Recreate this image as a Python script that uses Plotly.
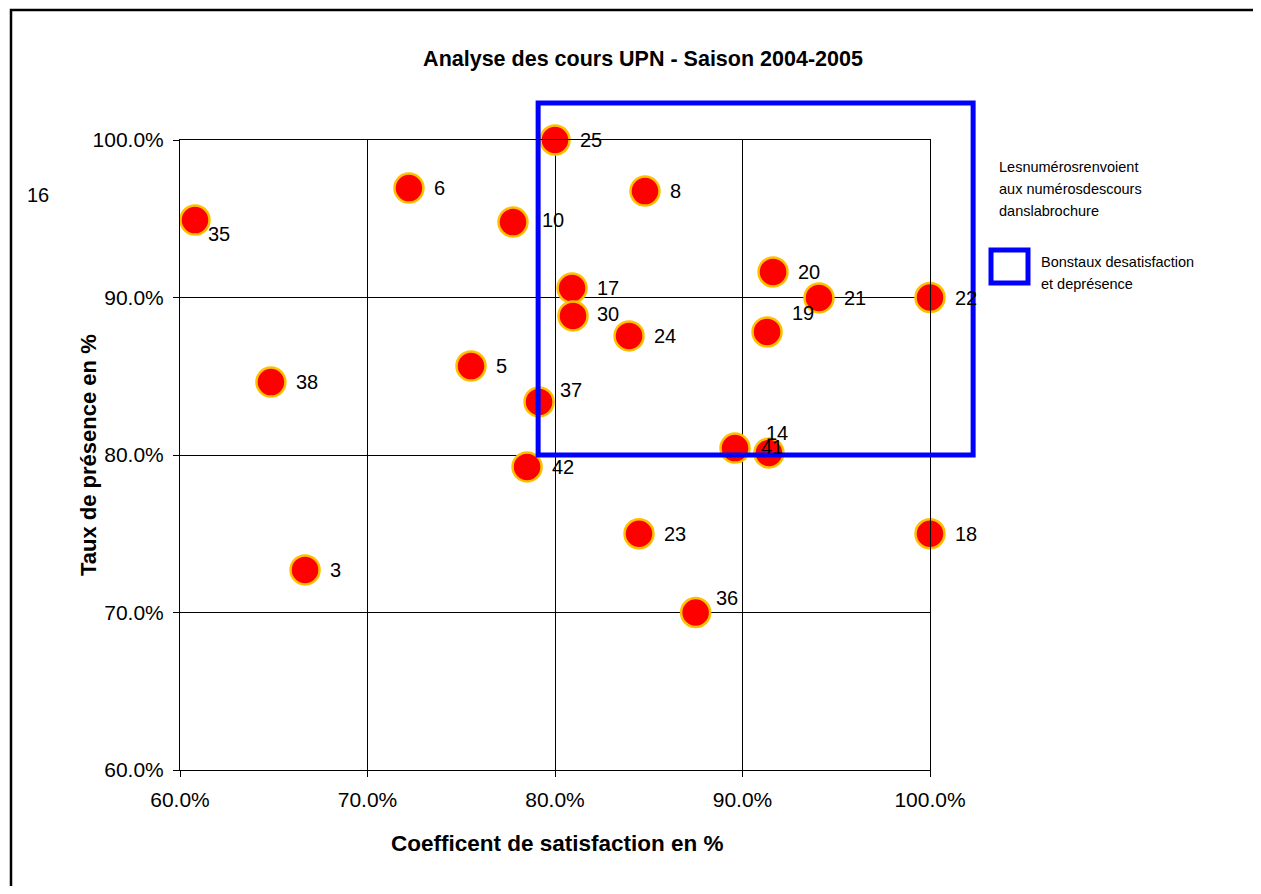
import plotly.graph_objects as go

# ---- data (fractions) ----
course_ids = ["3", "5", "6", "8", "10", "14", "17", "18", "19", "20", "21",
              "22", "23", "24", "25", "30", "35", "36", "37", "38", "41", "42"]
satisfaction = [0.6667, 0.7552, 0.7221, 0.848, 0.7776, 0.896, 0.8091, 1.000, 0.9131,
                0.9163, 0.9408, 1.000, 0.8448, 0.8395, 0.800, 0.8096, 0.608, 0.875,
                0.7915, 0.6485, 0.9141, 0.7851]
presence = [0.727, 0.8565, 0.9695, 0.9676, 0.9479, 0.8044, 0.906, 0.750, 0.8781,
            0.9162, 0.8997, 0.900, 0.750, 0.8756, 1.000, 0.8883, 0.9492, 0.700,
            0.8337, 0.8463, 0.8013, 0.7924]

# point outside of the displayed range (only its label is visible)
offscale_ids = ["16"]
offscale_sat = [0.505]
offscale_pres = [0.965]

# zone "Bons taux de satisfaction et de présence"
zone_x = [0.791, 1.023]
zone_y = [0.800, 1.0235]

x_ticks = [0.6, 0.7, 0.8, 0.9, 1.0]
y_ticks = [0.6, 0.7, 0.8, 0.9, 1.0]
x_range = [0.6, 1.0]
y_range = [0.6, 1.0]

note_lines = ["Lesnumérosrenvoient", "aux numérosdescours", "danslabrochure"]
key_lines = ["Bonstaux desatisfaction", "et deprésence"]

# label offsets in pixels (dx to label left edge, dy downwards)
label_offsets = {"35": (12, 14), "37": (20, -12), "36": (19, -15), "19": (24, -19),
                 "14": (30, -15), "41": (-9, -6), "10": (28, -2), "30": (23, -2)}

FONT = "Liberation Sans, Arial, sans-serif"

OFF = 8  # page offset of the figure in the browser
W, H = 1261 - 2 * OFF, 894 - 2 * OFF
ML, MT = 180 - OFF, 140 - OFF
PW, PH = 750, 630
MR, MB = W - ML - PW, H - MT - PH


def xp(v):
    return (v - x_range[0]) / (x_range[1] - x_range[0])


def yp(v):
    return (v - y_range[0]) / (y_range[1] - y_range[0])


def fx(px):  # screen pixel -> paper
    return (px - OFF - ML) / PW


def fy(py):
    return (MT + PH - (py - OFF)) / PH


fig = go.Figure()
fig.add_trace(go.Scatter(
    x=satisfaction, y=presence, mode="markers", cliponaxis=False,
    marker=dict(size=29, color="#FF0000", line=dict(color="#FFC000", width=2.5)),
    hoverinfo="x+y", showlegend=False,
))

annotations = []
for cid, sx, py in zip(course_ids, satisfaction, presence):
    dx, dy = label_offsets.get(cid, (24, 0))
    annotations.append(dict(x=sx, y=py, xref="x", yref="y", text=cid, showarrow=False,
                            xanchor="left", yanchor="middle", xshift=dx - 1, yshift=-dy,
                            font=dict(family=FONT, size=20, color="black")))
for cid, sx, py in zip(offscale_ids, offscale_sat, offscale_pres):
    annotations.append(dict(x=xp(sx), y=yp(py), xref="paper", yref="paper", text=cid,
                            showarrow=False, xanchor="left", yanchor="middle", xshift=23,
                            font=dict(family=FONT, size=20, color="black")))

# axis titles
annotations.append(dict(x=fx(557), y=fy(843), xref="paper", yref="paper",
                        text="<b>Coefficent de satisfaction en %</b>", showarrow=False,
                        xanchor="center", yanchor="middle",
                        font=dict(family=FONT, size=22.5, color="black")))
annotations.append(dict(x=fx(88), y=fy(455), xref="paper", yref="paper",
                        text="<b>Taux de présence en %</b>", showarrow=False, textangle=-90,
                        xanchor="center", yanchor="middle",
                        font=dict(family=FONT, size=22, color="black")))

# legend-like notes
for i, line in enumerate(note_lines):
    annotations.append(dict(x=fx(997), y=fy(167 + 22 * i), xref="paper", yref="paper",
                            text=line, showarrow=False, xanchor="left", yanchor="middle",
                            font=dict(family=FONT, size=14.5, color="black")))
for i, line in enumerate(key_lines):
    annotations.append(dict(x=fx(1039), y=fy(262 + 22 * i), xref="paper", yref="paper",
                            text=line, showarrow=False, xanchor="left", yanchor="middle",
                            font=dict(family=FONT, size=14.5, color="black")))

shapes = [
    # zone rectangle
    dict(type="rect", xref="paper", yref="paper",
         x0=xp(zone_x[0]), x1=xp(zone_x[1]), y0=yp(zone_y[0]), y1=yp(zone_y[1]),
         line=dict(color="#0000FF", width=5), layer="above"),
    # legend key
    dict(type="rect", xref="paper", yref="paper",
         x0=fx(991), x1=fx(1028), y0=fy(283), y1=fy(250),
         line=dict(color="#0000FF", width=5), layer="above"),
    # chart border
    dict(type="rect", xref="paper", yref="paper",
         x0=fx(11), x1=3, y0=-2, y1=fy(10),
         line=dict(color="black", width=2.5), layer="above"),
]

axis_common = dict(
    tickformat=".1%", showgrid=True, gridcolor="black", gridwidth=1,
    showline=True, mirror=True, linecolor="black", linewidth=1, ticks="outside",
    ticklen=6, tickcolor="black", zeroline=False, ticklabelstandoff=5,
    tickfont=dict(family=FONT, size=21, color="black"),
)

fig.update_layout(
    width=W, height=H, autosize=False,
    margin=dict(l=ML, r=MR, t=MT, b=MB),
    paper_bgcolor="white", plot_bgcolor="white",
    title=dict(text="<b>Analyse des cours UPN - Saison 2004-2005</b>",
               x=fx(643), xref="paper", xanchor="center",
               y=1 - (58 - OFF) / H, yref="container", yanchor="middle",
               font=dict(family=FONT, size=21.5, color="black")),
    xaxis=dict(range=x_range, tickvals=x_ticks, **axis_common),
    yaxis=dict(range=y_range, tickvals=y_ticks, **axis_common),
    annotations=annotations,
    shapes=shapes,
    showlegend=False,
)

fig.write_html("out.html")
